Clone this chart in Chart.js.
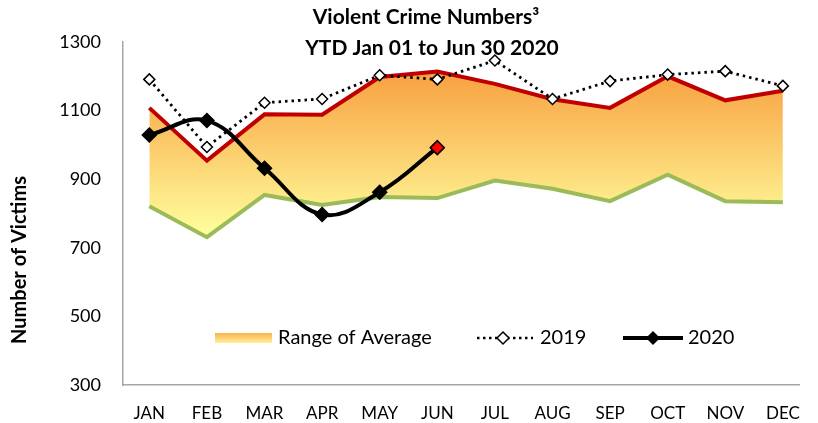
<!DOCTYPE html>
<html>
<head>
<meta charset="utf-8">
<script src="https://cdn.jsdelivr.net/npm/chart.js@4/dist/chart.umd.min.js"></script>
<style>
  html, body { margin: 0; padding: 0; background: #fff; overflow: hidden; }
</style>
</head>
<body>
<canvas id="crimeChart" width="818" height="423"></canvas>
<script>
// chart values
const months = ['JAN', 'FEB', 'MAR', 'APR', 'MAY', 'JUN', 'JUL', 'AUG', 'SEP', 'OCT', 'NOV', 'DEC'];
const upperAvg = [1108, 954, 1089, 1088, 1198, 1214, 1178, 1133, 1108, 1200, 1130, 1158];
const lowerAvg = [821, 731, 854, 825, 848, 845, 896, 872, 836, 913, 836, 833];
const y2019 = [1191, 994, 1123, 1134, 1203, 1191, 1246, 1134, 1186, 1205, 1215, 1172];
const y2020 = [1029, 1071, 932, 797, 862, 992];
const yTicks = [300, 500, 700, 900, 1100, 1300];

const FONT = 'Lato, "Open Sans", sans-serif';

// turn a list into {x,y} points on the month index
const pts = arr => arr.map((v, i) => ({ x: i, y: v }));

const rangeFill = (ctx) => {
  const chart = ctx.chart;
  if (!chart.chartArea) return 'rgba(250,180,80,0.8)';
  const y = chart.scales.y;
  const g = chart.ctx.createLinearGradient(0, y.getPixelForValue(1215), 0, y.getPixelForValue(735));
  g.addColorStop(0, '#F8A040');
  g.addColorStop(1, '#FFFF9E');
  return g;
};

// title, y axis title and the legend drawn on top
const overlay = {
  id: 'overlay',
  afterDraw(chart) {
    const c = chart.ctx;
    c.save();
    c.fillStyle = '#000';
    c.textAlign = 'center';
    c.textBaseline = 'middle';
    c.font = 'bold 21px ' + FONT;
    c.fillText('Violent Crime Numbers\u00B3', 426, 17);
    c.fillText('YTD Jan 01 to Jun 30 2020', 432, 48);

    c.save();
    c.translate(20, 260);
    c.rotate(-Math.PI / 2);
    c.font = 'bold 20px ' + FONT;
    c.fillText('Number of Victims', 0, 0);
    c.restore();

    // legend
    const ly = 338;
    c.font = '20px ' + FONT;
    c.textAlign = 'left';
    const g = c.createLinearGradient(0, 333, 0, 344);
    g.addColorStop(0, '#FBB150');
    g.addColorStop(1, '#FFF7A0');
    c.fillStyle = g;
    c.fillRect(215, 333, 57, 10);
    c.fillStyle = '#000';
    c.fillText('Range of Average', 278, ly);

    c.strokeStyle = '#000';
    c.lineWidth = 2.5;
    c.setLineDash([2.5, 3.5]);
    c.beginPath(); c.moveTo(477, ly); c.lineTo(533, ly); c.stroke();
    c.setLineDash([]);
    c.fillStyle = '#fff';
    c.lineWidth = 1.5;
    c.beginPath();
    c.moveTo(503, ly - 6); c.lineTo(509, ly); c.lineTo(503, ly + 6); c.lineTo(497, ly); c.closePath();
    c.fill(); c.stroke();
    c.fillStyle = '#000';
    c.fillText('2019', 540, ly);

    c.lineWidth = 4;
    c.beginPath(); c.moveTo(623, ly); c.lineTo(683, ly); c.stroke();
    c.beginPath();
    c.moveTo(653, ly - 7); c.lineTo(660, ly); c.lineTo(653, ly + 7); c.lineTo(646, ly); c.closePath();
    c.fill();
    c.fillText('2020', 688, ly);
    c.restore();
  }
};

const config = {
  type: 'line',
  data: {
    datasets: [
      {
        label: '2020',
        data: pts(y2020),
        borderColor: '#000',
        borderWidth: 4,
        tension: 0.4,
        pointStyle: 'rectRot',
        pointRadius: 7,
        pointBackgroundColor: y2020.map((v, i) => i === y2020.length - 1 ? '#FF0000' : '#000'),
        pointBorderColor: '#000',
        pointBorderWidth: 1.5,
        fill: false,
        order: 0,
      },
      {
        label: '2019',
        data: pts(y2019),
        borderColor: '#000',
        borderWidth: 2.8,
        borderDash: [2.5, 4],
        pointStyle: 'rectRot',
        pointRadius: 5.5,
        pointBackgroundColor: '#fff',
        pointBorderColor: '#000',
        pointBorderWidth: 1.5,
        fill: false,
        order: 1,
      },
      {
        label: 'Range low',
        data: pts(lowerAvg),
        borderColor: '#9BBB59',
        borderWidth: 4,
        pointRadius: 0,
        fill: false,
        order: 2,
      },
      {
        label: 'Range of Average',
        data: pts(upperAvg),
        borderColor: '#C00000',
        borderWidth: 4,
        pointRadius: 0,
        backgroundColor: rangeFill,
        fill: 2,
        order: 3,
      },
    ],
  },
  options: {
    responsive: false,
    animation: false,
    layout: { padding: { top: 42, right: 1, left: 0, bottom: 0 } },
    plugins: {
      legend: { display: false },
      title: { display: false },
      tooltip: { enabled: false },
    },
    scales: {
      x: {
        type: 'linear',
        min: -0.457,
        max: 11.288,
        grid: { display: false, drawTicks: false },
        border: { display: true, color: '#A6A6A6', width: 1.5 },
        afterBuildTicks: (s) => { s.ticks = months.map((m, i) => ({ value: i })); },
        afterFit: (s) => { s.height = 38; },
        ticks: {
          autoSkip: false,
          maxRotation: 0,
          padding: 18,
          color: '#000',
          font: { family: FONT, size: 17 },
          callback: (v) => months[v] ?? '',
        },
      },
      y: {
        min: 300,
        max: 1300,
        grid: { display: false, drawTicks: false },
        border: { display: true, color: '#A6A6A6', width: 1.5 },
        afterBuildTicks: (s) => { s.ticks = yTicks.map(v => ({ value: v })); },
        afterFit: (s) => { s.width = 123; },
        ticks: {
          padding: 22,
          color: '#000',
          font: { family: FONT, size: 18 },
          callback: (v) => String(v),
        },
      },
    },
  },
  plugins: [overlay],
};

new Chart(document.getElementById('crimeChart'), config);
</script>
</body>
</html>
